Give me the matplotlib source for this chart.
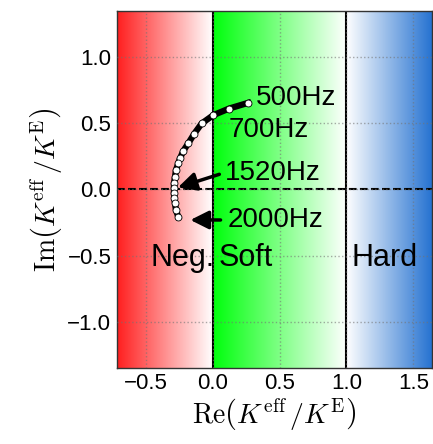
import numpy as np
import matplotlib
matplotlib.use("Agg")
import matplotlib.pyplot as plt
from matplotlib.colors import LinearSegmentedColormap

plt.rcParams["font.family"] = ["Liberation Sans", "DejaVu Sans"]
plt.rcParams["mathtext.fontset"] = "cm"

# effective modulus ratio K_eff / K_E, from 500 Hz down the arc to 2000 Hz
re_k = [0.266, 0.124, 0.005, -0.082, -0.137, -0.182, -0.219, -0.244, -0.257,
        -0.274, -0.281, -0.289, -0.289, -0.289, -0.287, -0.281, -0.274, -0.257]
im_k = [0.653, 0.61, 0.56, 0.497, 0.42, 0.347, 0.29, 0.233, 0.196,
        0.145, 0.095, 0.045, 0.008, -0.03, -0.068, -0.106, -0.156, -0.206]

x_ticks = [-0.5, 0.0, 0.5, 1.0, 1.5]
y_ticks = [-1.0, -0.5, 0.0, 0.5, 1.0]
xlim = (-0.715, 1.64)
ylim = (-1.345, 1.345)

fig = plt.figure(figsize=(4.33, 4.44), dpi=100)
ax = fig.add_axes([0.270, 0.172, 0.728, 0.803])

# shaded regions: negative / soft / hard stiffness
grad = np.linspace(0, 1, 256).reshape(1, -1)
red = LinearSegmentedColormap.from_list("r", [(1.0, 0.12, 0.12), (1, 1, 1)])
green = LinearSegmentedColormap.from_list("g", [(0.0, 1.0, 0.05), (1, 1, 1)])
blue = LinearSegmentedColormap.from_list("b", [(1, 1, 1), (0.15, 0.45, 0.82)])
ax.imshow(grad, cmap=red, extent=[xlim[0], 0, ylim[0], ylim[1]], aspect="auto", zorder=0)
ax.imshow(grad, cmap=green, extent=[0, 1, ylim[0], ylim[1]], aspect="auto", zorder=0)
ax.imshow(grad, cmap=blue, extent=[1, xlim[1], ylim[0], ylim[1]], aspect="auto", zorder=0)

ax.grid(True, linestyle=":", color="0.45", alpha=0.6, lw=1)
ax.set_axisbelow(False)
ax.axhline(0, color="k", ls="--", lw=1.5, zorder=2)
ax.axvline(0, color="k", lw=1.5, zorder=2)
ax.axvline(1, color="k", lw=1.5, zorder=2)

ax.plot(re_k, im_k, "-", color="k", lw=4.5, zorder=3)
ax.plot(re_k, im_k, "o", mfc="white", mec="k", mew=0.6, ms=5, zorder=4)

fs = 20
ax.text(0.323, 0.686, "500Hz", fontsize=fs, va="center", zorder=5)
ax.text(0.117, 0.447, "700Hz", fontsize=fs, va="center", zorder=5)
ax.text(0.092, 0.12, "1520Hz", fontsize=fs, va="center", zorder=5)
ax.text(0.112, -0.231, "2000Hz", fontsize=fs, va="center", zorder=5)
arrow = dict(arrowstyle="-|>,head_length=0.5,head_width=0.25", color="k", lw=2.5,
             mutation_scale=22)
ax.annotate("", xy=(re_k[12] + 0.01, 0.008), xytext=(0.07, 0.12), arrowprops=arrow, zorder=5)
ax.annotate("", xy=(re_k[-1] + 0.07, -0.231), xytext=(0.08, -0.231), arrowprops=arrow, zorder=5)

ax.text(-0.467, -0.52, "Neg.", fontsize=22, va="center", zorder=5)
ax.text(0.042, -0.52, "Soft", fontsize=22, va="center", zorder=5)
ax.text(1.037, -0.52, "Hard", fontsize=22, va="center", zorder=5)

ax.set_xlim(xlim)
ax.set_ylim(ylim)
ax.set_xticks(x_ticks)
ax.set_yticks(y_ticks)
ax.set_xticklabels(["\u22120.5", "0.0", "0.5", "1.0", "1.5"])
ax.set_yticklabels(["\u22121.0", "\u22120.5", "0.0", "0.5", "1.0"])
ax.tick_params(length=0, labelsize=16, pad=4)
ax.set_xlabel(r"$\mathrm{Re}\left(K^{\rm eff}\,/K^{\rm E}\right)$", fontsize=20, labelpad=2)
ax.set_ylabel(r"$\mathrm{Im}\left(K^{\rm eff}\,/K^{\rm E}\right)$", fontsize=20, labelpad=2)
for s in ax.spines.values():
    s.set_color("0.2")
    s.set_linewidth(1.0)

fig.savefig("out.png", dpi=100)
